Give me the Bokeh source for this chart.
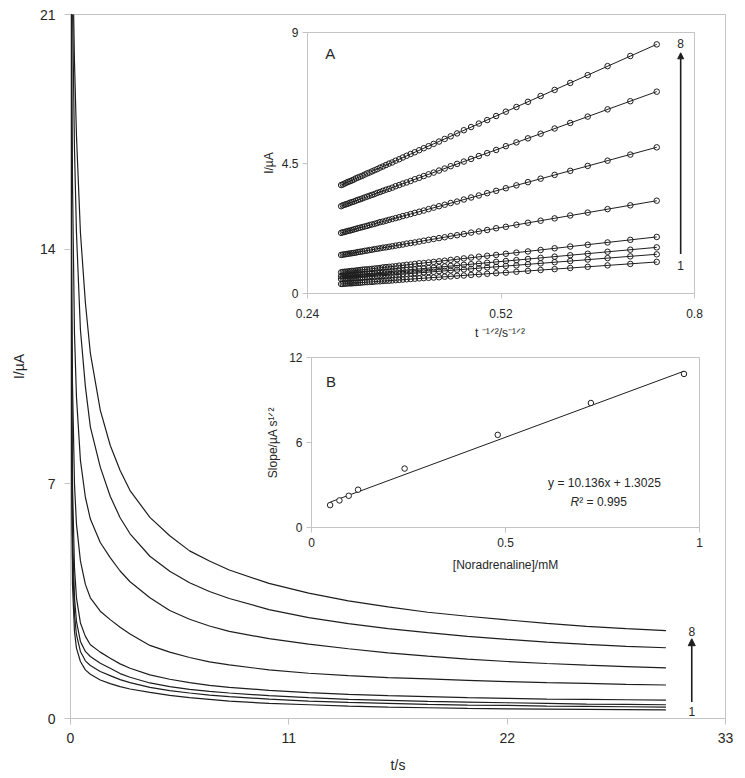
import numpy as np
from bokeh.plotting import figure
from bokeh.models import FixedTicker, Label, Arrow, NormalHead, CustomJSTickFormatter
from bokeh.layouts import column
from bokeh.embed import file_html
from bokeh.resources import INLINE

FONT = "Liberation Sans"
GRID = "#c4c4c4"
INK = "#1e1e1e"
TXT = "#262626"

# ---------------- main chronoamperograms ----------------
t_s = [0.02, 0.05, 0.1, 0.2, 0.3, 0.5, 0.75, 1.0, 1.5, 2, 2.5, 3, 4, 5, 6, 7, 8,
       10, 12, 14, 16, 18, 20, 22, 24, 26, 28, 30]
i_1 = [22, 8, 4.0, 2.6, 2.1, 1.7, 1.45, 1.32, 1.15, 1.04, 0.95, 0.88, 0.78, 0.69, 0.62, 0.57, 0.52,
       0.45, 0.41, 0.37, 0.34, 0.32, 0.3, 0.29, 0.28, 0.27, 0.265, 0.26]
i_2 = [24, 9, 4.8, 3.1, 2.5, 2.0, 1.72, 1.58, 1.4, 1.28, 1.16, 1.07, 0.93, 0.83, 0.76, 0.7, 0.65,
       0.58, 0.52, 0.48, 0.45, 0.42, 0.4, 0.39, 0.37, 0.36, 0.35, 0.34]
i_3 = [26, 10, 5.5, 3.6, 2.9, 2.3, 2.0, 1.85, 1.65, 1.5, 1.34, 1.23, 1.06, 0.95, 0.87, 0.81, 0.76,
       0.68, 0.62, 0.57, 0.54, 0.51, 0.49, 0.47, 0.45, 0.43, 0.42, 0.41]
i_4 = [28, 12, 7, 4.5, 3.6, 2.85, 2.45, 2.2, 1.98, 1.8, 1.63, 1.5, 1.3, 1.17, 1.07, 0.99, 0.93,
       0.84, 0.77, 0.72, 0.68, 0.65, 0.62, 0.6, 0.58, 0.57, 0.56, 0.55]
i_5 = [30, 15, 10, 7.0, 5.8, 4.7, 4.0, 3.6, 3.2, 2.95, 2.72, 2.52, 2.18, 1.98, 1.82, 1.69, 1.6,
       1.45, 1.35, 1.28, 1.22, 1.18, 1.14, 1.1, 1.07, 1.05, 1.02, 1.0]
i_6 = [36, 22, 16, 11.5, 9.6, 7.7, 6.6, 5.95, 5.25, 4.8, 4.4, 4.08, 3.6, 3.22, 2.96, 2.76, 2.6,
       2.38, 2.22, 2.08, 1.96, 1.86, 1.77, 1.7, 1.64, 1.59, 1.55, 1.51]
i_7 = [38, 26, 21.3, 17, 14.5, 11.6, 9.9, 8.7, 7.5, 6.63, 5.99, 5.51, 4.84, 4.39, 4.05, 3.79, 3.58,
       3.25, 3.01, 2.83, 2.68, 2.56, 2.45, 2.36, 2.28, 2.21, 2.15, 2.11]
i_8 = [40, 28, 23, 19.6, 17.4, 14.5, 12.4, 10.9, 9.2, 8.15, 7.4, 6.8, 6.0, 5.45, 5.0, 4.7, 4.43,
       4.03, 3.74, 3.51, 3.33, 3.17, 3.05, 2.94, 2.84, 2.75, 2.68, 2.62]
main_curves = [i_1, i_2, i_3, i_4, i_5, i_6, i_7, i_8]
main_xticks = [0, 11, 22, 33]
main_yticks = [0, 7, 14, 21]

# ---------------- inset A: I vs t^-1/2 ----------------
t_a = [1.8, 2.0, 2.2, 2.4, 2.6, 2.8, 3.0, 3.2, 3.4, 3.6, 3.8, 4.0, 4.2, 4.4, 4.6, 4.8, 5.0,
       5.2, 5.4, 5.6, 5.8, 6.0, 6.2, 6.4, 6.6, 6.8, 7.0, 7.2, 7.4, 7.6, 7.8, 8.0, 8.2, 8.4,
       8.6, 8.8, 9.0, 9.2, 9.4, 9.6, 9.8, 10.0, 10.2, 10.4, 10.6, 10.8, 11.0, 11.2, 11.4,
       11.6, 11.8, 12.0]
a_1 = [1.09, 1.02, 0.97, 0.92, 0.88, 0.84, 0.81, 0.78, 0.75, 0.72, 0.70, 0.68, 0.66, 0.64,
       0.62, 0.61, 0.59, 0.58, 0.56, 0.55, 0.54, 0.53, 0.52, 0.51, 0.50, 0.49, 0.48, 0.47,
       0.46, 0.45, 0.44, 0.44, 0.43, 0.42, 0.42, 0.41, 0.40, 0.40, 0.39, 0.39, 0.38, 0.37,
       0.37, 0.36, 0.36, 0.35, 0.35, 0.35, 0.34, 0.34, 0.33, 0.33]
a_2 = [1.35, 1.28, 1.22, 1.17, 1.12, 1.08, 1.04, 1.01, 0.97, 0.95, 0.92, 0.90, 0.87, 0.85,
       0.83, 0.82, 0.80, 0.78, 0.77, 0.75, 0.74, 0.73, 0.71, 0.70, 0.69, 0.68, 0.67, 0.66,
       0.65, 0.64, 0.63, 0.62, 0.62, 0.61, 0.60, 0.59, 0.59, 0.58, 0.57, 0.57, 0.56, 0.55,
       0.55, 0.54, 0.54, 0.53, 0.53, 0.52, 0.52, 0.51, 0.51, 0.50]
a_3 = [1.59, 1.51, 1.44, 1.37, 1.32, 1.27, 1.23, 1.19, 1.15, 1.12, 1.09, 1.06, 1.03, 1.01,
       0.99, 0.97, 0.95, 0.93, 0.91, 0.89, 0.88, 0.86, 0.85, 0.83, 0.82, 0.81, 0.80, 0.79,
       0.77, 0.76, 0.75, 0.74, 0.73, 0.73, 0.72, 0.71, 0.70, 0.69, 0.68, 0.68, 0.67, 0.66,
       0.66, 0.65, 0.64, 0.64, 0.63, 0.63, 0.62, 0.61, 0.61, 0.60]
a_4 = [1.95, 1.85, 1.76, 1.68, 1.62, 1.56, 1.50, 1.45, 1.41, 1.37, 1.33, 1.30, 1.27, 1.24,
       1.21, 1.18, 1.16, 1.13, 1.11, 1.09, 1.07, 1.05, 1.04, 1.02, 1.00, 0.99, 0.97, 0.96,
       0.94, 0.93, 0.92, 0.91, 0.90, 0.88, 0.87, 0.86, 0.85, 0.84, 0.83, 0.83, 0.82, 0.81,
       0.80, 0.79, 0.78, 0.78, 0.77, 0.76, 0.75, 0.75, 0.74, 0.73]
a_5 = [3.20, 3.04, 2.91, 2.79, 2.69, 2.59, 2.51, 2.44, 2.37, 2.30, 2.25, 2.19, 2.14, 2.10,
       2.05, 2.01, 1.98, 1.94, 1.91, 1.88, 1.85, 1.82, 1.79, 1.76, 1.74, 1.72, 1.69, 1.67,
       1.65, 1.63, 1.61, 1.59, 1.58, 1.56, 1.54, 1.53, 1.51, 1.50, 1.48, 1.47, 1.45, 1.44,
       1.43, 1.41, 1.40, 1.39, 1.38, 1.37, 1.36, 1.35, 1.34, 1.33]
a_6 = [5.04, 4.79, 4.58, 4.40, 4.23, 4.09, 3.96, 3.84, 3.73, 3.63, 3.54, 3.46, 3.38, 3.31,
       3.24, 3.17, 3.12, 3.06, 3.01, 2.96, 2.91, 2.86, 2.82, 2.78, 2.74, 2.70, 2.67, 2.63,
       2.60, 2.57, 2.54, 2.51, 2.48, 2.46, 2.43, 2.40, 2.38, 2.36, 2.33, 2.31, 2.29, 2.27,
       2.25, 2.23, 2.21, 2.19, 2.17, 2.16, 2.14, 2.12, 2.11, 2.09]
a_7 = [6.96, 6.63, 6.35, 6.10, 5.88, 5.69, 5.51, 5.35, 5.21, 5.08, 4.95, 4.84, 4.74, 4.64,
       4.55, 4.47, 4.39, 4.31, 4.24, 4.17, 4.11, 4.05, 3.99, 3.94, 3.88, 3.83, 3.79, 3.74,
       3.70, 3.65, 3.61, 3.58, 3.54, 3.50, 3.47, 3.43, 3.40, 3.37, 3.34, 3.31, 3.28, 3.25,
       3.23, 3.20, 3.17, 3.15, 3.13, 3.10, 3.08, 3.06, 3.04, 3.01]
a_8 = [8.59, 8.19, 7.84, 7.53, 7.26, 7.02, 6.81, 6.61, 6.43, 6.27, 6.12, 5.98, 5.86, 5.74,
       5.63, 5.52, 5.42, 5.33, 5.24, 5.16, 5.08, 5.01, 4.94, 4.87, 4.81, 4.75, 4.69, 4.63,
       4.58, 4.52, 4.48, 4.43, 4.38, 4.34, 4.29, 4.25, 4.21, 4.17, 4.14, 4.10, 4.06, 4.03,
       4.00, 3.97, 3.93, 3.90, 3.87, 3.85, 3.82, 3.79, 3.76, 3.74]
inset_a_series = [a_1, a_2, a_3, a_4, a_5, a_6, a_7, a_8]
a_xticks = [0.24, 0.52, 0.8]
a_yticks = [0, 4.5, 9]

# ---------------- inset B: slope vs concentration ----------------
conc_mM = [0.048, 0.072, 0.096, 0.12, 0.24, 0.48, 0.72, 0.96]
slope_b = [1.58, 1.91, 2.24, 2.67, 4.16, 6.54, 8.79, 10.84]
fit_slope, fit_icpt = 10.136, 1.3025
b_xticks = [0, 0.5, 1]
b_yticks = [0, 6, 12]

fmt = CustomJSTickFormatter(code="return tick.toString();")


def style(f, xt, yt, tick_fs, title_fs, xstand, ystand, xlab_stand, ylab_stand, tick_out,
          use_fmt=True):
    f.xgrid.visible = False
    f.ygrid.visible = False
    f.outline_line_color = GRID
    f.outline_line_width = 1
    f.background_fill_color = None
    f.border_fill_color = None
    f.xaxis.ticker = FixedTicker(ticks=xt)
    f.yaxis.ticker = FixedTicker(ticks=yt)
    for ax in (f.xaxis[0], f.yaxis[0]):
        if use_fmt:
            ax.formatter = fmt
        ax.axis_line_color = GRID
        ax.major_tick_line_color = GRID
        ax.minor_tick_line_color = None
        ax.major_tick_in = 0
        ax.major_tick_out = tick_out
        ax.major_label_text_font = FONT
        ax.major_label_text_font_size = tick_fs
        ax.major_label_text_color = TXT
        ax.axis_label_text_font = FONT
        ax.axis_label_text_font_size = title_fs
        ax.axis_label_text_font_style = "normal"
        ax.axis_label_text_color = TXT
    f.xaxis[0].major_label_standoff = xstand
    f.yaxis[0].major_label_standoff = ystand
    f.xaxis[0].axis_label_standoff = xlab_stand
    f.yaxis[0].axis_label_standoff = ylab_stand


# main figure
p = figure(width=737, height=776, x_range=(0, 33), y_range=(0, 21),
           output_backend="svg", toolbar_location=None,
           min_border_left=0, min_border_right=9, min_border_top=14, min_border_bottom=58)
style(p, main_xticks, main_yticks, "14px", "14px", 8, 9, 11, 10, 6, use_fmt=False)
p.xaxis.axis_label = "t/s"
p.yaxis.axis_label = "I/µA"
for c in main_curves:
    p.line(t_s, c, line_color=INK, line_width=1.2)
p.add_layout(Arrow(end=NormalHead(size=7, fill_color=INK, line_color=INK),
                   x_start=31.3, y_start=0.49, x_end=31.3, y_end=2.38,
                   line_color=INK, line_width=1.6))
for txt, yy in (("8", 2.6), ("1", 0.2)):
    p.add_layout(Label(x=31.3, y=yy, text=txt, text_align="center", text_baseline="middle",
                       text_font=FONT, text_font_size="12px", text_color=TXT))

# inset A
fa = figure(width=469, height=321, x_range=(0.24, 0.8), y_range=(0, 9),
            output_backend="svg", toolbar_location=None,
            min_border_left=70, min_border_right=12, min_border_top=10, min_border_bottom=50)
style(fa, a_xticks, a_yticks, "12px", "12px", 10, 4, 5, 3, 5)
fa.xaxis.axis_label = "t \u207b\u00b9\u141f\u00b2/s\u207b\u00b9\u141f\u00b2"
fa.yaxis.axis_label = "I/µA"
xa = [1.0 / np.sqrt(t) for t in t_a]
for ys in inset_a_series:
    k, b0 = np.polyfit(xa, ys, 1)
    fa.line([min(xa), max(xa)], [k * min(xa) + b0, k * max(xa) + b0], line_color=INK, line_width=1)
for ys in inset_a_series:
    fa.scatter(xa, ys, marker="circle", size=5.5, fill_color=None, line_color=INK, line_width=1)
fa.add_layout(Arrow(end=NormalHead(size=6, fill_color=INK, line_color=INK),
                    x_start=0.78, y_start=1.36, x_end=0.78, y_end=8.3,
                    line_color=INK, line_width=1.6))
for txt, yy in (("8", 8.63), ("1", 0.96)):
    fa.add_layout(Label(x=0.78, y=yy, text=txt, text_align="center", text_baseline="middle",
                        text_font=FONT, text_font_size="12px", text_color=TXT))
fa.add_layout(Label(x=0.273, y=8.27, text="A", text_align="center", text_baseline="middle",
                    text_font=FONT, text_font_size="15px", text_color=TXT))
fa.styles = {"position": "absolute", "left": "237px", "top": "22px"}

# inset B
fb = figure(width=470, height=228, x_range=(0, 1), y_range=(0, 12),
            output_backend="svg", toolbar_location=None,
            min_border_left=70, min_border_right=12, min_border_top=10, min_border_bottom=48)
style(fb, b_xticks, b_yticks, "12px", "12px", 5, 4, 8, 6, 5)
fb.xaxis.axis_label = "[Noradrenaline]/mM"
fb.yaxis.axis_label = "Slope/µA s\u00b9\u141f\u00b2"
xb0, xb1 = min(conc_mM), max(conc_mM)
fb.line([xb0, xb1], [fit_slope * xb0 + fit_icpt, fit_slope * xb1 + fit_icpt],
        line_color=INK, line_width=1)
fb.scatter(conc_mM, slope_b, marker="circle", size=5.5, fill_color="white",
           line_color=INK, line_width=1)
fb.add_layout(Label(x=0.05, y=10.3, text="B", text_align="center", text_baseline="middle",
                    text_font=FONT, text_font_size="15px", text_color=TXT))
fb.add_layout(Label(x=0.755, y=3.12, text="y = 10.136x + 1.3025", text_align="center",
                    text_baseline="middle", text_font=FONT, text_font_size="12px", text_color=TXT))
fb.add_layout(Label(x=0.69, y=1.81, text="R", text_align="right", text_baseline="middle",
                    text_font=FONT, text_font_size="12px", text_font_style="italic", text_color=TXT))
fb.add_layout(Label(x=0.69, y=1.81, text="\u00b2 = 0.995", text_align="left", text_baseline="middle",
                    text_font=FONT, text_font_size="12px", text_color=TXT))
fb.styles = {"position": "absolute", "left": "241px", "top": "347px"}

layout = column(p, fa, fb)
open("out.html", "w").write(file_html(layout, INLINE))
